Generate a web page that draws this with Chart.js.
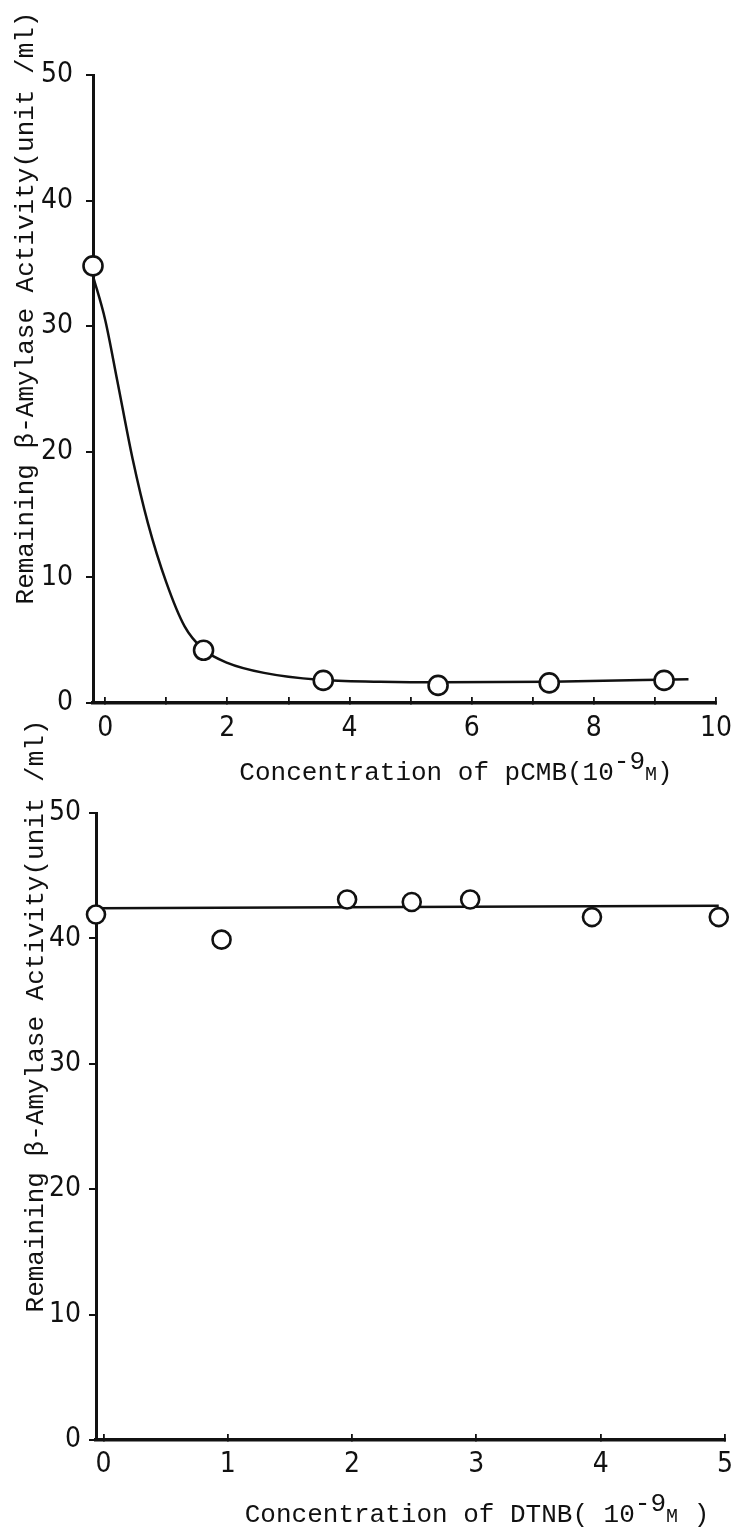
<!DOCTYPE html>
<html>
<head>
<meta charset="utf-8">
<script src="https://cdn.jsdelivr.net/npm/chart.js@4.4.1/dist/chart.umd.min.js"></script>
<style>
  html, body { margin: 0; padding: 0; background: #fff; }
  body { width: 747px; height: 1530px; position: relative; overflow: hidden; }
  .panel { position: absolute; left: 0; width: 747px; }
  #topPanel { top: 0; height: 790px; }
  #bottomPanel { top: 700px; height: 830px; }
</style>
</head>
<body>
<div class="panel" id="topPanel"><canvas id="pcmbChart"></canvas></div>
<div class="panel" id="bottomPanel"><canvas id="dtnbChart"></canvas></div>
<script>
// pCMB panel: measured points and the drawn curve through them
const pcmbX = [-0.2, 1.61, 3.57, 5.45, 7.27, 9.15];
const pcmbY = [34.8, 4.2, 1.8, 1.4, 1.6, 1.8];
const pcmbCurveX = [-0.2, 0.0, 0.2, 0.45, 0.7, 1.0, 1.3, 1.6, 2.0, 2.6, 3.5, 4.5, 5.5, 7.3, 9.55];
const pcmbCurveY = [34.0, 30.5, 25.6, 19.4, 14.3, 9.6, 6.1, 4.3, 3.2, 2.4, 1.85, 1.7, 1.65, 1.7, 1.9];
const pcmbXTicks = [0, 1, 2, 3, 4, 5, 6, 7, 8, 9, 10];
const pcmbXLabels = ["0", "", "2", "", "4", "", "6", "", "8", "", "10"];

// DTNB panel
const dtnbX = [-0.06, 0.95, 1.96, 2.48, 2.95, 3.93, 4.95];
const dtnbY = [41.9, 39.9, 43.1, 42.9, 43.1, 41.7, 41.7];
const dtnbLineX = [-0.06, 4.95];
const dtnbLineY = [42.4, 42.6];
const dtnbXTicks = [0, 1, 2, 3, 4, 5];
const dtnbXLabels = ["0", "1", "2", "3", "4", "5"];

const activityTicks = [0, 10, 20, 30, 40, 50];
const activityLabels = ["0", "10", "20", "30", "40", "50"];

const TICK_FONT = "'Liberation Sans Narrow', 'DejaVu Sans Condensed', 'DejaVu Sans', sans-serif";
const MONO_FONT = "'Liberation Mono', 'DejaVu Sans Mono', monospace";
const INK = "#111";

// axis titles are placed off-centre in the original, so draw them here
const axisTitles = {
  id: "axisTitles",
  afterDraw(chart, args, opts) {
    const ctx = chart.ctx;
    const fontFor = p => `${p.size || 26}px ${MONO_FONT}`;
    (opts.items || []).forEach(item => {
      ctx.save();
      ctx.translate(item.x, item.y);
      ctx.rotate(item.rotate || 0);
      ctx.fillStyle = INK;
      ctx.textBaseline = "alphabetic";
      ctx.textAlign = "left";
      let total = 0;
      item.parts.forEach(p => { ctx.font = fontFor(p); total += ctx.measureText(p.text).width; });
      let x = -total / 2;
      item.parts.forEach(p => {
        ctx.font = fontFor(p);
        ctx.fillText(p.text, x, -(p.rise || 0));
        x += ctx.measureText(p.text).width;
      });
      ctx.restore();
    });
  }
};

function xAxis(min, max, ticks, labels, height, pad) {
  return {
    type: "linear",
    min, max,
    afterBuildTicks: axis => { axis.ticks = ticks.map(v => ({ value: v })); },
    afterFit: axis => { axis.height = height; },
    border: { display: true, color: INK, width: 3.5 },
    grid: { display: true, drawOnChartArea: false, drawTicks: true, tickLength: -6, color: INK, lineWidth: 1.8 },
    ticks: {
      color: INK,
      font: { family: TICK_FONT, size: 28 },
      padding: pad,
      maxRotation: 0,
      autoSkip: false,
      callback: (v, i) => labels[i]
    }
  };
}

function yAxis(width, pad) {
  return {
    type: "linear",
    min: 0, max: 50,
    afterBuildTicks: axis => { axis.ticks = activityTicks.map(v => ({ value: v })); },
    afterFit: axis => { axis.width = width; },
    border: { display: true, color: INK, width: 3 },
    grid: { display: true, drawOnChartArea: false, drawTicks: true, tickLength: 7, color: INK, lineWidth: 2 },
    ticks: {
      color: INK,
      font: { family: TICK_FONT, size: 28 },
      padding: pad,
      autoSkip: false,
      callback: (v, i) => activityLabels[i]
    }
  };
}

const circleStyle = {
  showLine: false,
  pointRadius: 9.5,
  pointBorderWidth: 2.6,
  pointBackgroundColor: "#fff",
  pointBorderColor: INK,
  clip: false
};

new Chart(document.getElementById("pcmbChart"), {
  type: "scatter",
  data: {
    datasets: [
      { ...circleStyle, data: pcmbX.map((x, i) => ({ x, y: pcmbY[i] })) },
      {
        data: pcmbCurveX.map((x, i) => ({ x, y: pcmbCurveY[i] })),
        showLine: true,
        pointRadius: 0,
        borderColor: INK,
        borderWidth: 2.5,
        cubicInterpolationMode: "monotone",
        clip: false
      }
    ]
  },
  options: {
    responsive: true,
    maintainAspectRatio: false,
    animation: false,
    layout: { padding: { top: 75, right: 19, left: 0, bottom: 0 } },
    plugins: {
      legend: { display: false },
      tooltip: { enabled: false },
      axisTitles: {
        items: [
          { parts: [{ text: "Remaining β-Amylase Activity(unit /ml)" }], x: 33, y: 308, rotate: -Math.PI / 2 },
          { parts: [{ text: "Concentration of pCMB(10" }, { text: "-9", rise: 11 }, { text: "M", size: 20 }, { text: ")" }], x: 456, y: 780 }
        ]
      }
    },
    scales: {
      x: xAxis(-0.2, 10, pcmbXTicks, pcmbXLabels, 87, 15),
      y: yAxis(93, 13)
    }
  },
  plugins: [axisTitles]
});

new Chart(document.getElementById("dtnbChart"), {
  type: "scatter",
  data: {
    datasets: [
      { ...circleStyle, pointRadius: 9, data: dtnbX.map((x, i) => ({ x, y: dtnbY[i] })) },
      {
        data: dtnbLineX.map((x, i) => ({ x, y: dtnbLineY[i] })),
        showLine: true,
        pointRadius: 0,
        borderColor: INK,
        borderWidth: 2.5,
        clip: false
      }
    ]
  },
  options: {
    responsive: true,
    maintainAspectRatio: false,
    animation: false,
    layout: { padding: { top: 113, right: 19, left: 0, bottom: 0 } },
    plugins: {
      legend: { display: false },
      tooltip: { enabled: false },
      axisTitles: {
        items: [
          { parts: [{ text: "Remaining β-Amylase Activity(unit /ml)" }], x: 43, y: 316, rotate: -Math.PI / 2 },
          { parts: [{ text: "Concentration of DTNB( 10" }, { text: "-9", rise: 11 }, { text: "M", size: 20 }, { text: " )" }], x: 477, y: 822 }
        ]
      }
    },
    scales: {
      x: xAxis(-0.06, 5, dtnbXTicks, dtnbXLabels, 90, 14),
      y: yAxis(96, 8)
    }
  },
  plugins: [axisTitles]
});
</script>
</body>
</html>
